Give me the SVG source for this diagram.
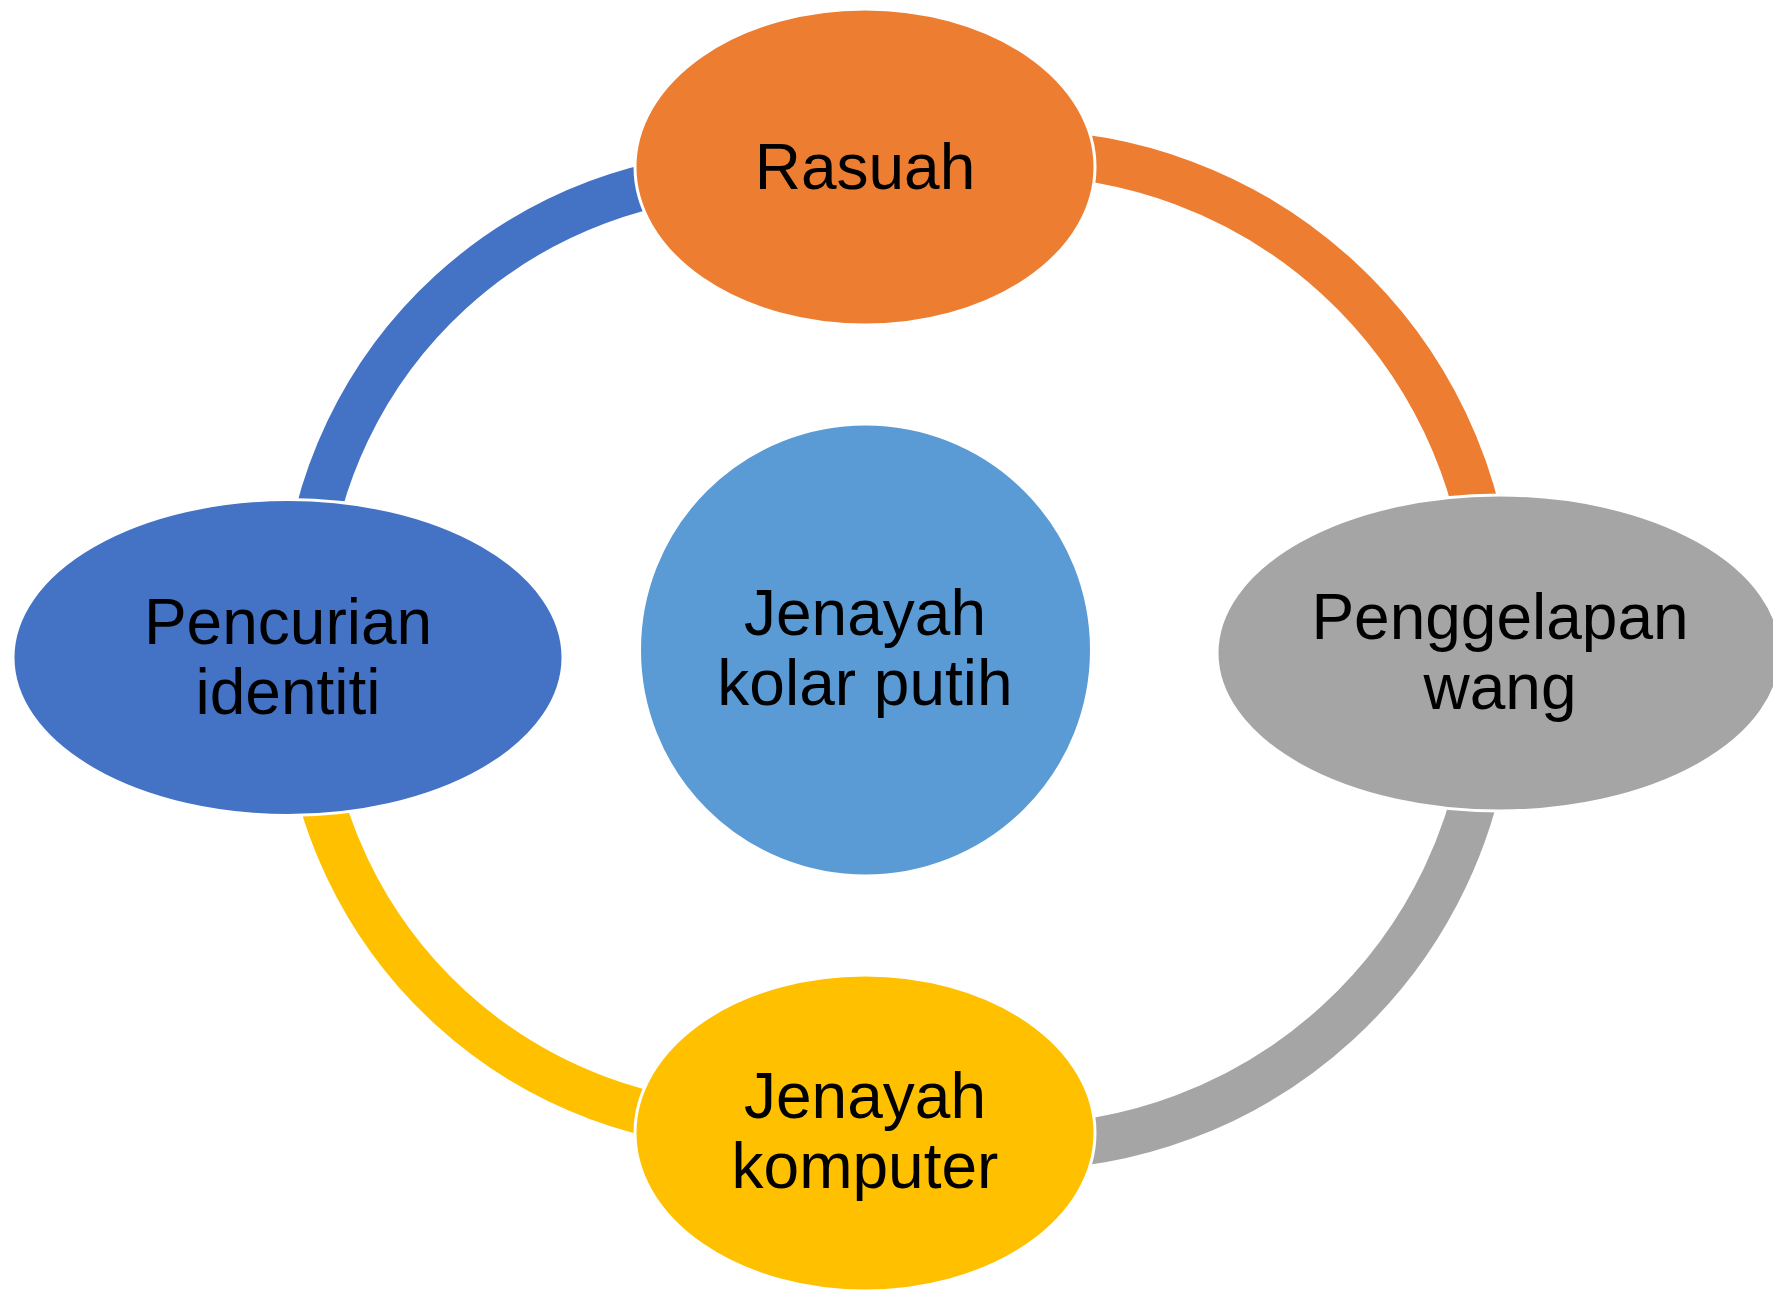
<svg xmlns="http://www.w3.org/2000/svg" width="1773" height="1290" viewBox="0 0 1773 1290">
  <style>
    .arc { fill: none; stroke-linecap: butt; }
    .node { stroke: #ffffff; stroke-width: 3; }
    .lbl { font-family: "Liberation Sans", Arial, sans-serif; font-size: 64px; fill: #000000; text-anchor: middle; }
  </style>
  <rect x="0" y="0" width="1773" height="1290" fill="#ffffff"/>
  <g id="connectors">
    <path class="arc" d="M 1018 153 A 473 473 0 0 1 1489.2 584.8" stroke="#ED7D31" stroke-width="46"/>
    <path class="arc" d="M 1489.2 715.2 A 473 473 0 0 1 1018 1147" stroke="#A5A5A5" stroke-width="46"/>
    <path class="arc" d="M 756 1126.5 A 452.5 452.5 0 0 1 305.2 713.4" stroke="#FFC000" stroke-width="45"/>
    <path class="arc" d="M 305.2 586.6 A 452.5 452.5 0 0 1 756 173.5" stroke="#4472C4" stroke-width="45"/>
  </g>
  <g id="node-center">
    <circle cx="865.5" cy="650" r="226" fill="#5B9BD5" class="node"/>
    <text class="lbl" x="865" y="635">Jenayah</text>
    <text class="lbl" x="865" y="705">kolar putih</text>
  </g>
  <g id="node-rasuah">
    <ellipse cx="865" cy="167" rx="230" ry="158" fill="#ED7D31" class="node"/>
    <text class="lbl" x="865" y="189">Rasuah</text>
  </g>
  <g id="node-penggelapan">
    <ellipse cx="1499" cy="653" rx="282" ry="158" fill="#A5A5A5" class="node"/>
    <text class="lbl" x="1500" y="639">Penggelapan</text>
    <text class="lbl" x="1500" y="709">wang</text>
  </g>
  <g id="node-komputer">
    <ellipse cx="865" cy="1133" rx="230" ry="158" fill="#FFC000" class="node"/>
    <text class="lbl" x="865" y="1118">Jenayah</text>
    <text class="lbl" x="865" y="1188">komputer</text>
  </g>
  <g id="node-pencurian">
    <ellipse cx="288" cy="657.5" rx="275" ry="158" fill="#4472C4" class="node"/>
    <text class="lbl" x="288" y="644">Pencurian</text>
    <text class="lbl" x="288" y="714">identiti</text>
  </g>
</svg>
